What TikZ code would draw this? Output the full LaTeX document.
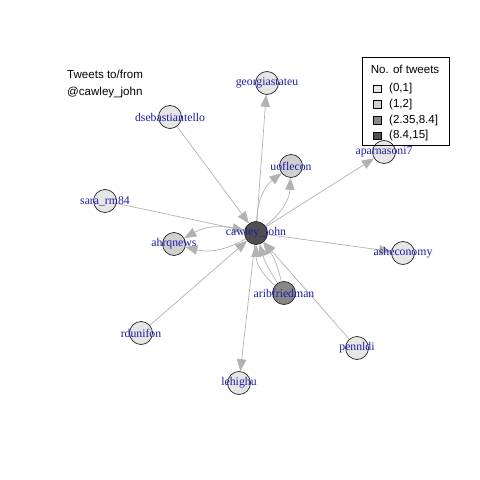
\documentclass[tikz,border=0pt]{standalone}
\usepackage{fontspec}
\setmainfont{Liberation Serif}
\setsansfont{Liberation Sans}
\usepackage{tikz}
\usetikzlibrary{arrows.meta,backgrounds}
\definecolor{labblue}{RGB}{28,28,165}
\definecolor{edgegray}{RGB}{178,178,178}
\definecolor{lvA}{RGB}{230,230,230}
\definecolor{lvB}{RGB}{208,208,208}
\definecolor{lvC}{RGB}{136,136,136}
\definecolor{lvD}{RGB}{80,80,80}

\begin{document}
\begin{tikzpicture}[x=1bp,y=-1bp,>={Triangle[length=12bp,width=9.5bp]},
    vtx/.style={circle,draw=black!85,line width=0.7bp,minimum size=23bp,inner sep=0pt},
    vlab/.style={text=labblue,font=\fontsize{11.8}{13}\selectfont,inner sep=0pt},
    edge/.style={draw=edgegray,line width=0.7bp,->},
    txt/.style={font=\sffamily\fontsize{11.6}{16.5}\selectfont,inner sep=0pt}]
    \useasboundingbox (0,0) rectangle (480,480);
    \node[txt,anchor=north west,align=left] (title) at (67,70) {Tweets to/from\\@cawley\_john};
    \node[vtx,fill=lvD,label={[vlab]center:cawley\_john}] (cawley) at (256,233) {};
    \node[vtx,fill=lvA,label={[vlab]center:georgiastateu}] (georgia) at (267,83) {};
    \node[vtx,fill=lvA,label={[vlab]center:dsebastiantello}] (dseb) at (170,117) {};
    \node[vtx,fill=lvB,label={[vlab]center:uoflecon}] (uofl) at (291,166) {};
    \node[vtx,fill=lvA,label={[vlab]center:aparnasoni7}] (aparna) at (384,152) {};
    \node[vtx,fill=lvA,label={[vlab]center:sara\_rm84}] (sara) at (105,201) {};
    \node[vtx,fill=lvB,label={[vlab]center:ahrqnews}] (ahrq) at (174,244) {};
    \node[vtx,fill=lvA,label={[vlab]center:asheconomy}] (ashe) at (403,253) {};
    \node[vtx,fill=lvC,label={[vlab]center:aribfriedman}] (arib) at (284,293) {};
    \node[vtx,fill=lvA,label={[vlab]center:rdunifon}] (rdun) at (141,333) {};
    \node[vtx,fill=lvA,label={[vlab]center:pennldi}] (penn) at (357,348) {};
    \node[vtx,fill=lvA,label={[vlab]center:lehighu}] (lehigh) at (239,383) {};
    \begin{scope}[on background layer]
      \draw[edge] (cawley) -- (georgia);
      \draw[edge] (dseb) -- (cawley);
      \draw[edge] (cawley) to[bend left=25] (uofl);
      \draw[edge] (cawley) to[bend right=25] (uofl);
      \draw[edge] (cawley) -- (aparna);
      \draw[edge] (sara) -- (cawley);
      \draw[edge] (cawley) to[bend left=22] (ahrq);
      \draw[edge] (cawley) to[bend right=22] (ahrq);
      \draw[edge] (cawley) -- (ashe);
      \draw[edge] (arib) to[bend left=25] (cawley);
      \draw[edge] (arib) to[bend left=8] (cawley);
      \draw[edge] (arib) to[bend right=12] (cawley);
      \draw[edge] (rdun) -- (cawley);
      \draw[edge] (penn) -- (cawley);
      \draw[edge] (cawley) -- (lehigh);
    \end{scope}
    \draw[line width=0.7bp] (362,57) rectangle (449,145);
    \node[txt] (legtitle) at (405,69) {No. of tweets};
    \foreach \c/\t [count=\i] in {lvA/{(0,1]},lvB/{(1,2]},lvC/{(2.35,8.4]},lvD/{(8.4,15]}} {
      \node[draw,fill=\c,line width=0.6bp,minimum size=7.5bp,inner sep=0pt] (key\i) at (377.5,73+15.7*\i) {};
      \node[txt,anchor=west] (keytxt\i) at (389,73+15.7*\i) {\t};
    }
  \end{tikzpicture}
\end{document}
